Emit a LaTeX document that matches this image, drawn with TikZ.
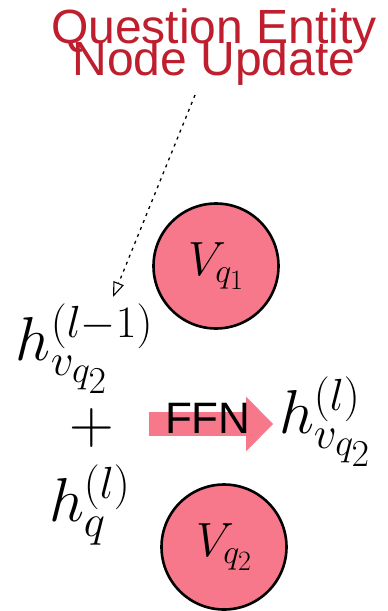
\RequirePackage{fix-cm}
\documentclass[tikz,border=0pt]{standalone}
\usepackage{amsmath}
\usepackage{fontspec}
\setsansfont{Liberation Sans}
\usetikzlibrary{arrows.meta}
\DeclareMathSizes{62}{62}{45}{38}
\DeclareMathSizes{48}{48}{34}{28}
\definecolor{UpdateTitle}{RGB}{190,30,45}
\definecolor{UpdateNode}{RGB}{247,120,139}
\definecolor{UpdateInk}{gray}{0}
\tikzset{
    update/diagram/.style={
        line cap=butt,
        every node/.style={inner sep=0pt, outer sep=0pt}
    },
    update/title/.style={
        font=\sffamily\fontsize{48}{33}\selectfont,
        text=UpdateTitle, align=center
    },
    update/entity/.style={
        circle, fill=UpdateNode, draw=UpdateInk, line width=2.6pt,
        minimum size=125pt, font=\fontsize{48}{48}\selectfont
    },
    update/state/.style={anchor=base west, font=\fontsize{62}{62}\selectfont},
    update/leader/.style={
        draw=UpdateInk, line width=1.3pt, dash pattern=on 3pt off 4.5pt,
        -{Triangle[open, length=15pt, width=11pt, line width=1.1pt]}
    },
    update/ffn/.style={
        draw=UpdateNode, line width=24pt,
        -{Triangle[length=27pt, width=55pt, line width=0pt]}
    },
    update/ffnlabel/.style={
        anchor=base west, font=\sffamily\fontsize{44}{44}\selectfont
    }
}
\begin{document}
\begin{tikzpicture}[update/diagram, x=1pt, y=-1pt]
    \useasboundingbox (0,0) rectangle (388,611);
    \node[update/title, anchor=base] (title) at (214,75) {Question Entity\\[-14pt]Node Update};
    \node[update/entity] (vq1) at (216,266) {$V_{q_1}$};
    \node[update/entity] (vq2) at (224,547) {$V_{q_2}$};
    \node[update/state] (prev) at (16,360) {$h^{(l-1)}_{v_{q_2}}$};
    \node (plus) at (92,428) {\fontsize{62}{62}\selectfont$+$};
    \node[update/state] (query) at (49,521) {$h^{(l)}_{q}$};
    \coordinate (ffn-tail) at (149,424);
    \coordinate (ffn-head) at (273,424);
    \draw[update/ffn] (ffn-tail) -- (ffn-head);
    \node[update/ffnlabel] (ffn) at (165,433) {FFN};
    \node[update/state] (out) at (279,433) {$h^{(l)}_{v_{q_2}}$};
    \coordinate (lead-from) at (195,95);
    \coordinate (lead-to) at (113,297);
    \draw[update/leader] (lead-from) -- (lead-to);
\end{tikzpicture}
\end{document}
